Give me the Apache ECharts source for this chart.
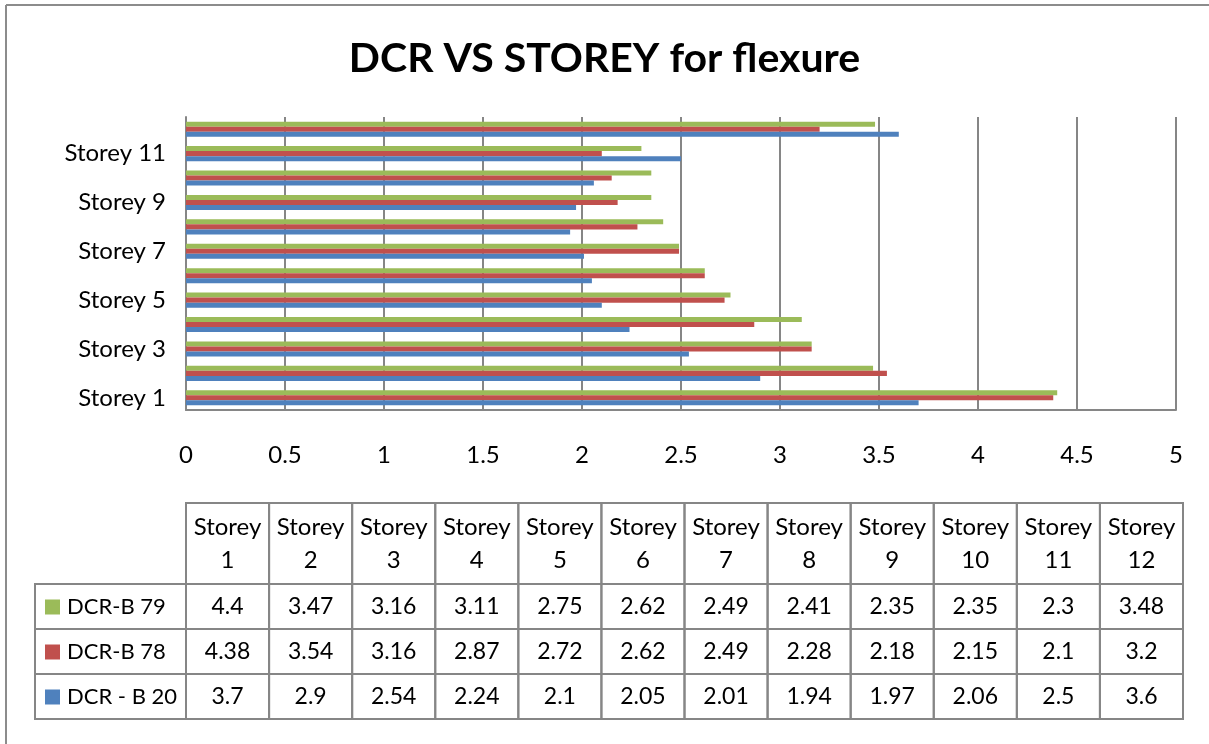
<!DOCTYPE html>
<html lang="en">
<head>
    <meta charset="UTF-8">
    <title>DCR VS STOREY for flexure</title>
    <script src="https://cdn.jsdelivr.net/npm/echarts@6/dist/echarts.min.js"></script>
    <style>
        html, body { margin: 0; padding: 0; background: #fff; }
        #main { width: 1209px; height: 744px; }
    </style>
</head>
<body>
<div id="main"></div>
<script>
    var storeys = ['Storey 1', 'Storey 2', 'Storey 3', 'Storey 4', 'Storey 5', 'Storey 6',
                   'Storey 7', 'Storey 8', 'Storey 9', 'Storey 10', 'Storey 11', 'Storey 12'];
    var dcrB79 = [4.4, 3.47, 3.16, 3.11, 2.75, 2.62, 2.49, 2.41, 2.35, 2.35, 2.3, 3.48];
    var dcrB78 = [4.38, 3.54, 3.16, 2.87, 2.72, 2.62, 2.49, 2.28, 2.18, 2.15, 2.1, 3.2];
    var dcrB20 = [3.7, 2.9, 2.54, 2.24, 2.1, 2.05, 2.01, 1.94, 1.97, 2.06, 2.5, 3.6];
    var seriesNames = ['DCR-B 79', 'DCR-B 78', 'DCR - B 20'];
    var colors = ['#9BBB59', '#C0504D', '#4F81BD'];

    var font = 'Lato, "Open Sans", sans-serif';
    var lineColor = '#868686';

    // data table layout under the plot
    var tblLeft = 186, tblRight = 1183, legLeft = 35;
    var headTop = 503, headH = 81, rowH = 45;
    var colW = (tblRight - tblLeft) / storeys.length;

    var rows = [dcrB79, dcrB78, dcrB20];
    var graphics = [];

    // outer chart frame (only top / left edges visible)
    graphics.push({ type: 'line', shape: { x1: 6, y1: 5, x2: 1209, y2: 5 }, style: { stroke: '#8c8c8c', lineWidth: 2 } });
    graphics.push({ type: 'line', shape: { x1: 6, y1: 5, x2: 6, y2: 744 }, style: { stroke: '#8c8c8c', lineWidth: 2 } });

    // header cells
    storeys.forEach(function (s, i) {
        var x = tblLeft + i * colW;
        graphics.push({
            type: 'rect', shape: { x: x, y: headTop, width: colW, height: headH },
            style: { fill: 'none', stroke: lineColor, lineWidth: 2 }
        });
        graphics.push({
            type: 'text', x: x + colW / 2, y: headTop + headH / 2,
            style: {
                text: s.replace(' ', '\n'), font: '24px ' + font, fill: '#000',
                align: 'center', verticalAlign: 'middle', lineHeight: 33
            }
        });
    });

    // value rows
    rows.forEach(function (vals, r) {
        var y = headTop + headH + r * rowH;
        graphics.push({
            type: 'rect', shape: { x: legLeft, y: y, width: tblLeft - legLeft, height: rowH },
            style: { fill: 'none', stroke: lineColor, lineWidth: 2 }
        });
        graphics.push({
            type: 'rect', shape: { x: legLeft + 10, y: y + rowH / 2 - 7, width: 15, height: 15 },
            style: { fill: colors[r] }
        });
        graphics.push({
            type: 'text', x: legLeft + 32, y: y + rowH / 2,
            style: { text: seriesNames[r], font: '22px ' + font, fill: '#000', align: 'left', verticalAlign: 'middle' }
        });
        vals.forEach(function (v, i) {
            var x = tblLeft + i * colW;
            graphics.push({
                type: 'rect', shape: { x: x, y: y, width: colW, height: rowH },
                style: { fill: 'none', stroke: lineColor, lineWidth: 2 }
            });
            graphics.push({
                type: 'text', x: x + colW / 2, y: y + rowH / 2,
                style: { text: String(v), font: '23px ' + font, fill: '#000', align: 'center', verticalAlign: 'middle' }
            });
        });
    });

    var myChart = echarts.init(document.getElementById('main'));

    var option = {
        backgroundColor: '#fff',
        animation: false,
        title: {
            text: 'DCR VS STOREY for flexure',
            left: 'center',
            top: 33,
            textStyle: { fontFamily: font, fontSize: 41, fontWeight: 'bold', color: '#000' }
        },
        grid: {
            left: 186,
            right: 33,
            top: 117,
            bottom: 334
        },
        xAxis: {
            type: 'value',
            min: 0,
            max: 5,
            interval: 0.5,
            axisLine: { show: true, lineStyle: { color: lineColor, width: 2 } },
            axisTick: { show: false },
            axisLabel: { margin: 33, fontFamily: font, fontSize: 24, color: '#000' },
            splitLine: { show: true, lineStyle: { color: lineColor, width: 2 } }
        },
        yAxis: {
            type: 'category',
            data: storeys,
            axisLine: { show: true, lineStyle: { color: lineColor, width: 2 } },
            axisTick: { show: false },
            axisLabel: { interval: 1, margin: 20, fontFamily: font, fontSize: 24, color: '#000' },
            splitLine: { show: false }
        },
        series: [
            { name: seriesNames[0], type: 'bar', data: dcrB79, itemStyle: { color: colors[0] }, barGap: '0%', barCategoryGap: '38%' },
            { name: seriesNames[1], type: 'bar', data: dcrB78, itemStyle: { color: colors[1] }, barGap: '0%', barCategoryGap: '38%' },
            { name: seriesNames[2], type: 'bar', data: dcrB20, itemStyle: { color: colors[2] }, barGap: '0%', barCategoryGap: '38%' }
        ],
        graphic: graphics
    };

    myChart.setOption(option);
</script>
</body>
</html>
